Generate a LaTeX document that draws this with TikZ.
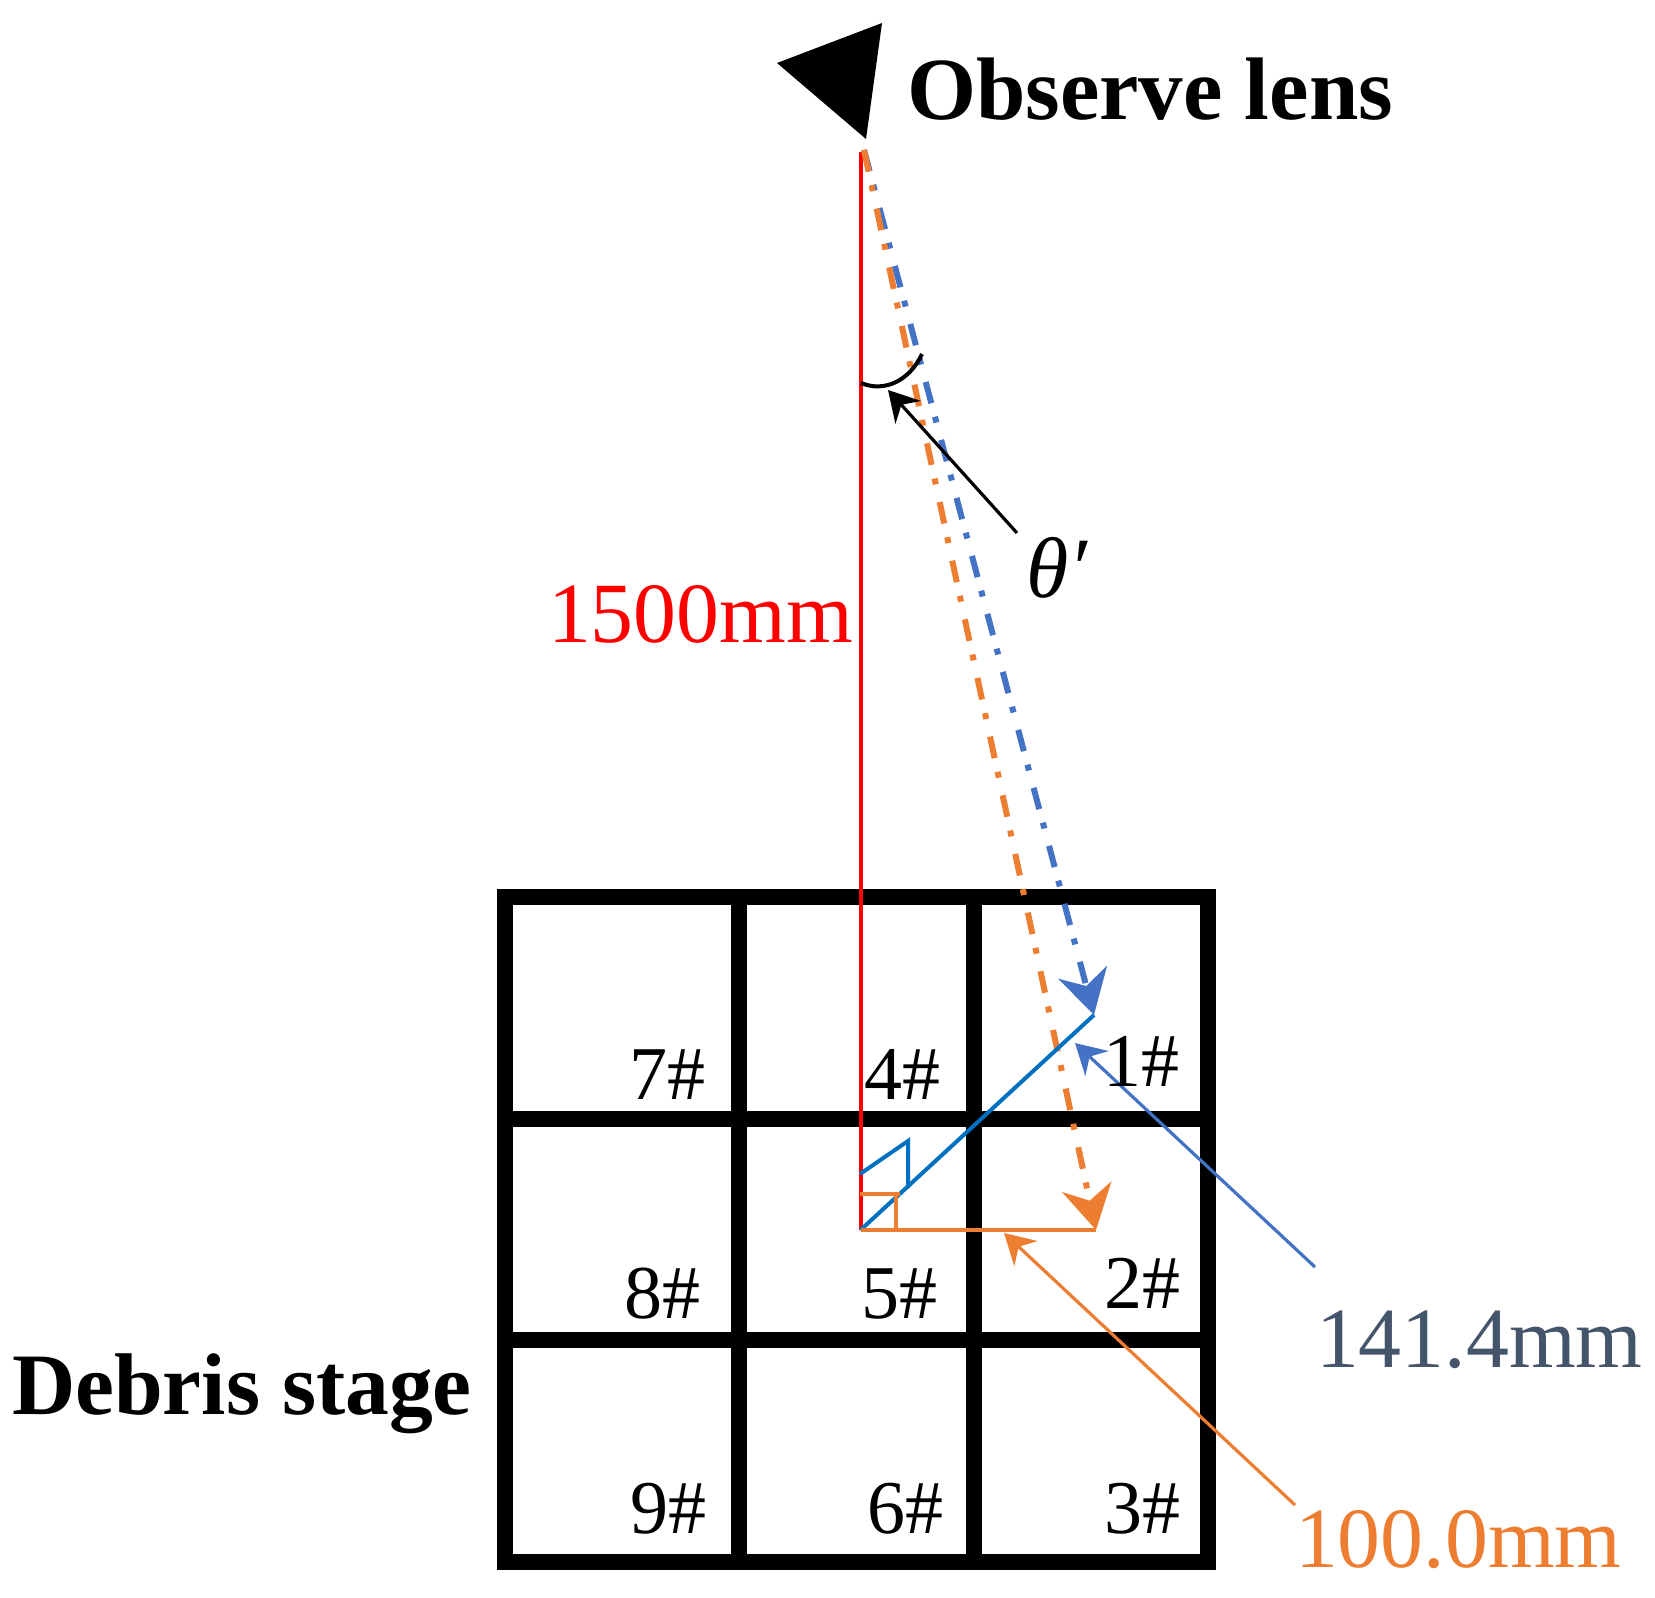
\documentclass[tikz,border=0pt]{standalone}
\usepackage{fontspec}
\setmainfont{Liberation Serif}
\usetikzlibrary{arrows.meta}
\definecolor{cblue}{HTML}{4472C4}
\definecolor{corange}{HTML}{ED7D31}
\definecolor{chyp}{HTML}{0070C0}
\definecolor{cslate}{HTML}{44546A}
\tikzset{
  x=0.5pt,y=-0.5pt,
  txt/.style={anchor=base west,inner sep=0pt,outer sep=0pt},
  big/.style={txt,font=\fontsize{42.9}{44}\selectfont},
  boldtxt/.style={txt,font=\fontsize{44.4}{46}\selectfont\bfseries},
  boldtxtb/.style={txt,font=\fontsize{43.8}{46}\selectfont\bfseries},
  cell/.style={txt,font=\fontsize{38}{41}\selectfont},
  grid bar/.style={line width=8pt,black,line cap=butt},
  sightline/.style={line width=3pt,dash pattern=on 11pt off 7pt on 3pt off 9pt,
    -{Stealth[length=22pt,width=25pt,inset=7pt]}},
  thin solid/.style={line width=2pt},
  callout/.style={line width=1.6pt,-{Stealth[length=15pt,width=17pt,inset=5pt]}}
}
\begin{document}
\begin{tikzpicture}
\useasboundingbox (0,0) rectangle (1655,1597);
% lens
\fill[black] (777,63) -- (882,23) -- (866,139) -- cycle;
% key points
\coordinate (top) at (860.5,152);
\coordinate (eye) at (864,150);
\coordinate (o) at (860.5,1230);
\coordinate (p1) at (1094,1015);
\coordinate (p2) at (1096,1230);
\coordinate (thetaTail) at (1017,533);
\coordinate (thetaTip) at (888,390);
\coordinate (blueTail) at (1315,1267);
\coordinate (blueTip) at (1075,1043);
\coordinate (orangeTail) at (1295,1505);
\coordinate (orangeTip) at (1004,1233);
% grid
\draw[grid bar] (504.5,889) -- (504.5,1570);
\draw[grid bar] (739,889) -- (739,1570);
\draw[grid bar] (974,889) -- (974,1570);
\draw[grid bar] (1208,889) -- (1208,1570);
\draw[grid bar] (496.5,897) -- (1216,897);
\draw[grid bar] (496.5,1118.5) -- (1216,1118.5);
\draw[grid bar] (496.5,1340) -- (1216,1340);
\draw[grid bar] (496.5,1562) -- (1216,1562);
% vertical
\draw[red,thin solid] (top) -- (o);
% sight lines
\draw[sightline,cblue] (eye) -- (p1);
\draw[sightline,corange] (eye) -- (p2);
% triangle sides
\draw[chyp,thin solid] (o) -- (p1);
\draw[corange,thin solid] (o) -- (p2);
% right angle marks
\draw[chyp,thin solid] (860,1174) -- (908,1141) -- (908,1188);
\draw[corange,thin solid] (860,1194) -- (900,1194);
\draw[corange,thin solid] (896,1194) -- (896,1230);
% angle
\draw[black,thin solid] (861,383) .. controls (885,393) and (910,380) .. (922,354);
% callouts
\draw[callout,black] (thetaTail) -- (thetaTip);
\draw[callout,cblue] (blueTail) -- (blueTip);
\draw[callout,corange] (orangeTail) -- (orangeTip);
% labels
\node[boldtxt] (lens) at (907,119) {Observe lens};
\node[boldtxtb] (stage) at (12,1414) {Debris stage};
\node[big,text=red] (h) at (548,642) {1500mm};
\node[big,text=cslate] (d1) at (1316,1367) {141.4mm};
\node[big,text=corange] (d2) at (1295,1567) {100.0mm};
\node[txt,font=\fontsize{43}{45}\selectfont\itshape] (theta) at (1026,597) {θ′};
\node[cell] (n7) at (629,1099) {7\#};
\node[cell] (n4) at (864,1099) {4\#};
\node[cell] (n1) at (1103,1086) {1\#};
\node[cell] (n8) at (624,1318) {8\#};
\node[cell] (n5) at (861,1318) {5\#};
\node[cell] (n2) at (1104,1308) {2\#};
\node[cell] (n9) at (630,1533) {9\#};
\node[cell] (n6) at (867,1533) {6\#};
\node[cell] (n3) at (1104,1533) {3\#};
\end{tikzpicture}
\end{document}
